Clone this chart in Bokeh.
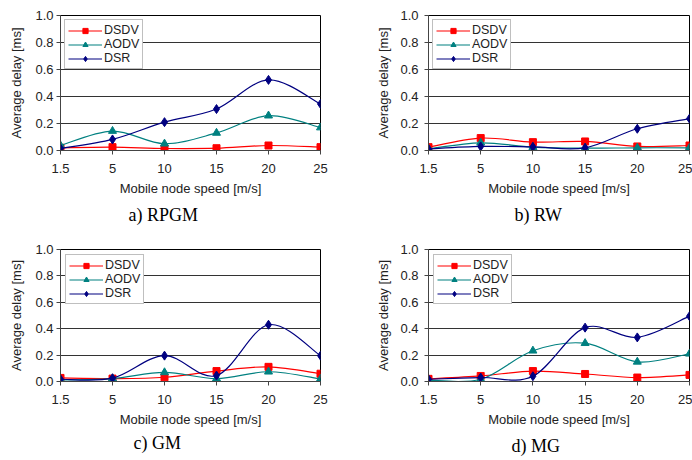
from bokeh.plotting import figure
from bokeh.layouts import column, row
from bokeh.models import Range1d, FixedTicker, PrintfTickFormatter, Legend, LegendItem, ColumnDataSource
from bokeh.embed import file_html
from bokeh.resources import INLINE

speeds = ["1.5", "5", "10", "15", "20", "25"]
protocols = ["DSDV", "AODV", "DSR"]

rpgm_dsdv = [0.020, 0.025, 0.015, 0.017, 0.037, 0.025]
rpgm_aodv = [0.037, 0.144, 0.050, 0.130, 0.258, 0.170]
rpgm_dsr = [0.015, 0.082, 0.210, 0.307, 0.523, 0.345]

rw_dsdv = [0.025, 0.092, 0.062, 0.067, 0.030, 0.037]
rw_aodv = [0.012, 0.057, 0.025, 0.017, 0.020, 0.020]
rw_dsr = [0.012, 0.030, 0.027, 0.020, 0.161, 0.236]

gm_dsdv = [0.027, 0.022, 0.032, 0.079, 0.111, 0.059]
gm_aodv = [0.012, 0.022, 0.069, 0.022, 0.074, 0.020]
gm_dsr = [0.017, 0.025, 0.196, 0.045, 0.430, 0.196]

mg_dsdv = [0.020, 0.042, 0.079, 0.057, 0.030, 0.050]
mg_aodv = [0.010, 0.017, 0.233, 0.290, 0.149, 0.210]
mg_dsr = [0.017, 0.030, 0.040, 0.408, 0.334, 0.495]

y_ticks = [0.0, 0.2, 0.4, 0.6, 0.8, 1.0]

colors = {"DSDV": "#ff0000", "AODV": "#008080", "DSR": "#000080"}
markers = {"DSDV": "square", "AODV": "triangle", "DSR": "diamond"}
msizes = {"DSDV": 7, "AODV": 8, "DSR": 9}

FONT = "Liberation Sans"


def smooth_source(xs, ys):
    # Bezier control points for a smoothed line through the data points
    n = len(xs)
    d = dict(x0=[], y0=[], x1=[], y1=[], cx0=[], cy0=[], cx1=[], cy1=[])
    for i in range(n - 1):
        p0 = i - 1 if i > 0 else i
        p3 = i + 2 if i + 2 < n else i + 1
        d["x0"].append(xs[i]); d["y0"].append(ys[i])
        d["x1"].append(xs[i + 1]); d["y1"].append(ys[i + 1])
        d["cx0"].append(xs[i] + (xs[i + 1] - xs[p0]) / 6)
        d["cy0"].append(ys[i] + (ys[i + 1] - ys[p0]) / 6)
        d["cx1"].append(xs[i + 1] - (xs[p3] - xs[i]) / 6)
        d["cy1"].append(ys[i + 1] - (ys[p3] - ys[i]) / 6)
    return ColumnDataSource(d)


def make_panel(caption, series, width, height, bl, br, bt, bb, ylab_standoff,
               ylab_label_standoff, cap_offset, cap_standoff, leg_margin):
    p = figure(width=width, height=height, output_backend="svg", toolbar_location=None,
               x_range=Range1d(0, len(speeds) - 1), y_range=Range1d(0, 1),
               min_border_left=bl, min_border_right=br, min_border_top=bt,
               min_border_bottom=bb, title=caption, title_location="below")
    p.background_fill_color = "white"
    p.border_fill_color = "white"
    p.outline_line_color = "black"
    p.outline_line_width = 1

    p.title.align = "left"
    p.title.offset = cap_offset
    p.title.standoff = cap_standoff
    p.title.text_font = "Liberation Serif"
    p.title.text_font_size = "18px"
    p.title.text_font_style = "normal"
    p.title.text_color = "black"

    p.xgrid.visible = False
    p.ygrid.ticker = FixedTicker(ticks=y_ticks)
    p.ygrid.grid_line_color = "#333333"
    p.ygrid.grid_line_width = 1

    p.xaxis.ticker = FixedTicker(ticks=list(range(len(speeds))))
    p.xaxis.major_label_overrides = {i: s for i, s in enumerate(speeds)}
    p.yaxis.ticker = FixedTicker(ticks=y_ticks)
    p.yaxis.formatter = PrintfTickFormatter(format="%.1f")
    p.xaxis.axis_label = "Mobile node speed [m/s]"
    p.yaxis.axis_label = "Average delay [ms]"
    for ax in (p.xaxis, p.yaxis):
        ax.axis_line_color = "#444444"
        ax.axis_line_width = 1
        ax.major_tick_line_color = "#444444"
        ax.major_tick_out = 4
        ax.major_tick_in = 0
        ax.minor_tick_line_color = None
        ax.major_label_text_font = FONT
        ax.major_label_text_font_size = "13px"
        ax.major_label_text_color = "#222222"
        ax.axis_label_text_font = FONT
        ax.axis_label_text_font_size = "13px"
        ax.axis_label_text_font_style = "normal"
        ax.axis_label_text_color = "#222222"
    p.xaxis.major_label_standoff = 9
    p.xaxis.axis_label_standoff = 5
    p.yaxis.major_label_standoff = ylab_standoff
    p.yaxis.axis_label_standoff = ylab_label_standoff

    xs = list(range(len(speeds)))
    items = []
    for name, ys in zip(protocols, series):
        src = smooth_source(xs, ys)
        c = colors[name]
        br_ = p.bezier(x0="x0", y0="y0", x1="x1", y1="y1", cx0="cx0", cy0="cy0",
                       cx1="cx1", cy1="cy1", source=src, line_color=c, line_width=1.2)
        sr = p.scatter(xs, ys, marker=markers[name], size=msizes[name],
                       fill_color=c, line_color=c)
        items.append(LegendItem(label=name, renderers=[br_, sr]))

    leg = Legend(items=items, location="top_left", margin=leg_margin, padding=3,
                 spacing=0, glyph_width=34, glyph_height=13, label_height=13,
                 label_standoff=2, label_text_font=FONT, label_text_font_size="12.5px",
                 label_text_color="#222222", border_line_color="#808080",
                 border_line_width=1, background_fill_color="white",
                 background_fill_alpha=1.0)
    p.add_layout(leg)
    return p


pa = make_panel("a) RPGM", [rpgm_dsdv, rpgm_aodv, rpgm_dsr], 346, 230, 60, 26, 15, 80,
                3, 8, 68, 9, 4)
pb = make_panel("b) RW", [rw_dsdv, rw_aodv, rw_dsr], 346, 230, 82, 3, 15, 80,
                6, 6, 86, 9, 4)
pc = make_panel("c) GM", [gm_dsdv, gm_aodv, gm_dsr], 346, 230, 60, 26, 19, 76,
                3, 8, 73, 3, 5)
pd = make_panel("d) MG", [mg_dsdv, mg_aodv, mg_dsr], 346, 230, 82, 3, 19, 76,
                6, 6, 83, 9, 5)

layout = column(row(pa, pb), row(pc, pd))
open("out.html", "w").write(file_html(layout, INLINE))
